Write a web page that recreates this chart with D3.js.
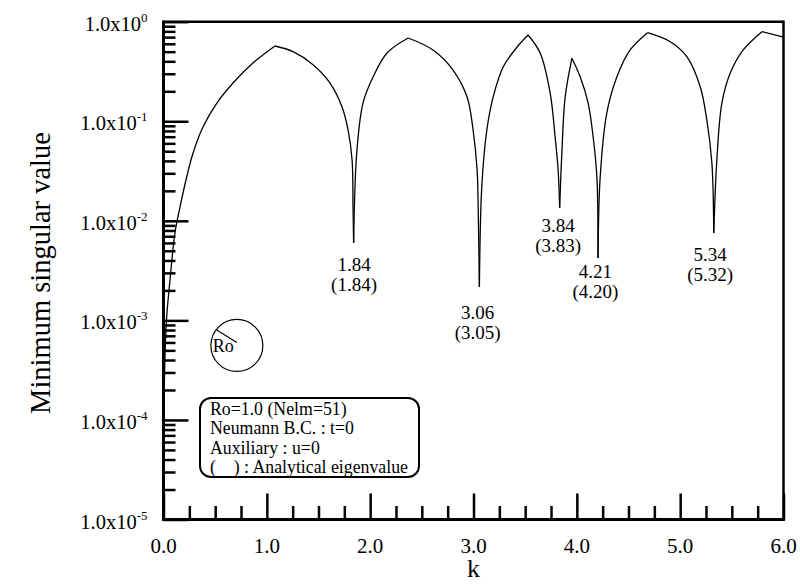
<!DOCTYPE html>
<html>
<head>
<meta charset="utf-8">
<script src="https://cdn.jsdelivr.net/npm/d3@7"></script>
<style>
  body { margin: 0; background: #fff; }
  svg { display: block; }
  text { font-family: "Times New Roman", "Liberation Serif", serif; fill: #000; }
</style>
</head>
<body>
<svg id="chart" width="800" height="588"></svg>
<script>
// wave number k and minimum singular value
var kVals = [0.005, 0.015, 0.031, 0.063, 0.111, 0.160, 0.225, 0.286, 0.382, 0.518, 0.673, 0.866, 1.079,
  1.254, 1.447, 1.612, 1.728, 1.786, 1.825, 1.834, 1.840,
  1.870, 1.931, 2.028, 2.163, 2.368,
  2.608, 2.802, 2.938, 2.996, 3.035, 3.044, 3.057,
  3.080, 3.129, 3.190, 3.287, 3.422, 3.528,
  3.645, 3.742, 3.790, 3.819, 3.834,
  3.855, 3.887, 3.952,
  4.033, 4.109, 4.158, 4.194, 4.205,
  4.226, 4.290, 4.387, 4.516, 4.684,
  4.904, 5.065, 5.194, 5.258, 5.307, 5.325,
  5.355, 5.404, 5.485, 5.610, 5.791, 6.0]
var sVals = [1.5e-4, 4.5e-4, 1.09e-3, 2.55e-3, 7.55e-3, 1.38e-2, 2.77e-2, 4.8e-2, 8.75e-2, 0.153, 0.242, 0.385, 0.570,
  0.50, 0.37, 0.242, 0.139, 0.0817, 0.0408, 0.0138, 5.98e-3,
  0.048, 0.153, 0.278, 0.485, 0.686,
  0.520, 0.327, 0.175, 0.0817, 0.0324, 0.0162, 2.16e-3,
  0.0219, 0.0817, 0.175, 0.351, 0.557, 0.735,
  0.485, 0.192, 0.0695, 0.0324, 0.0135,
  0.048, 0.175, 0.429,
  0.278, 0.153, 0.0695, 0.0275, 4.23e-3,
  0.0275, 0.121, 0.278, 0.520, 0.776,
  0.630, 0.445, 0.222, 0.103, 0.0381, 7.55e-3,
  0.0408, 0.153, 0.305, 0.520, 0.794, 0.70]

// eigenvalue annotations: computed and (analytical)
var annComputed = ['1.84', '3.06', '3.84', '4.21', '5.34']
var annAnalytical = ['(1.84)', '(3.05)', '(3.83)', '(4.20)', '(5.32)']
var annK = [1.844, 3.04, 3.82, 4.18, 5.29]
var annS = [3.13e-3, 1.03e-3, 7.72e-3, 2.67e-3, 3.95e-3]

var xMajor = [0, 1, 2, 3, 4, 5, 6]
var xTickLabels = ['0.0', '1.0', '2.0', '3.0', '4.0', '5.0', '6.0']
var yMajor = [1, 1e-1, 1e-2, 1e-3, 1e-4, 1e-5]
var yExponents = ['0', '-1', '-2', '-3', '-4', '-5']

var legendLines = ['Ro=1.0 (Nelm=51)', 'Neumann B.C. : t=0', 'Auxiliary : u=0', '(    ) : Analytical eigenvalue']

var svg = d3.select('#chart')
var plotLeft = 163.5
var plotRight = 783.5
var plotTop = 21.7
var plotBottom = 519.5

var x = d3.scaleLinear().domain([0, 6]).range([plotLeft, plotRight])
var y = d3.scaleLog().domain([1e-5, 1]).range([plotBottom, plotTop])

// minor ticks
var xMinor = d3.range(0, 6.001, 0.25).filter((d) => Math.abs(d - Math.round(d)) > 1e-6)
var yMinor = []
for (var e = -5; e < 0; e++) {
  for (var m = 2; m <= 9; m++) yMinor.push(m * Math.pow(10, e))
}

function styleAxis (g) {
  g.select('.domain').remove()
  g.selectAll('.tick line').attr('stroke', '#000').attr('stroke-width', 2.5)
  g.selectAll('.tick text').remove()
}

svg.append('g').attr('transform', 'translate(0,' + plotBottom + ')')
  .call(d3.axisBottom(x).tickValues(xMinor).tickSize(-13.5).tickSizeOuter(0))
  .call(styleAxis)
svg.append('g').attr('transform', 'translate(0,' + plotBottom + ')')
  .call(d3.axisBottom(x).tickValues(xMajor).tickSize(-26).tickSizeOuter(0))
  .call(styleAxis)
svg.append('g').attr('transform', 'translate(' + plotLeft + ',0)')
  .call(d3.axisLeft(y).tickValues(yMinor).tickSize(-12).tickSizeOuter(0))
  .call(styleAxis)
svg.append('g').attr('transform', 'translate(' + plotLeft + ',0)')
  .call(d3.axisLeft(y).tickValues(yMajor).tickSize(-25).tickSizeOuter(0))
  .call(styleAxis)

// frame
svg.append('line').attr('x1', plotLeft).attr('x2', plotRight).attr('y1', plotTop).attr('y2', plotTop)
  .attr('stroke', '#000').attr('stroke-width', 2.5)
svg.append('line').attr('x1', plotRight).attr('x2', plotRight).attr('y1', plotTop - 1.2).attr('y2', plotBottom + 1.5)
  .attr('stroke', '#000').attr('stroke-width', 2.5)
svg.append('line').attr('x1', plotLeft).attr('x2', plotLeft).attr('y1', plotTop - 1.2).attr('y2', plotBottom + 1.5)
  .attr('stroke', '#000').attr('stroke-width', 3)
svg.append('line').attr('x1', plotLeft - 1.5).attr('x2', plotRight + 1.2).attr('y1', plotBottom).attr('y2', plotBottom)
  .attr('stroke', '#000').attr('stroke-width', 3)

// tick labels
svg.selectAll('.xlab').data(xMajor).enter().append('text')
  .attr('class', 'xlab')
  .attr('x', (d) => x(d))
  .attr('y', plotBottom + 33)
  .attr('text-anchor', 'middle')
  .style('font-size', '21px')
  .text((d, i) => xTickLabels[i])

var ylab = svg.selectAll('.ylab').data(yMajor).enter().append('text')
  .attr('class', 'ylab')
  .attr('x', plotLeft - 16)
  .attr('y', (d) => y(d) + 9)
  .attr('text-anchor', 'end')
  .style('font-size', '20.5px')
ylab.append('tspan').text('1.0x10')
ylab.append('tspan').attr('dy', -9).style('font-size', '13px').text((d, i) => yExponents[i])

// axis titles
svg.append('text')
  .attr('x', (plotLeft + plotRight) / 2)
  .attr('y', 577)
  .attr('text-anchor', 'middle')
  .style('font-size', '26px')
  .text('k')
svg.append('text')
  .attr('transform', 'translate(50,273) rotate(-90)')
  .attr('text-anchor', 'middle')
  .style('font-size', '28.5px')
  .text('Minimum singular value')

// curve: split at turning points so each arc keeps its sharp cusps
var pts = kVals.map((k, i) => [k, sVals[i]])
var pieces = []
var cur = [pts[0]]
for (var i = 1; i < pts.length; i++) {
  cur.push(pts[i])
  if (i < pts.length - 1) {
    var a = pts[i][1] - pts[i - 1][1]
    var b = pts[i + 1][1] - pts[i][1]
    if (a * b < 0) {
      pieces.push(cur)
      cur = [pts[i]]
    }
  }
}
pieces.push(cur)

var line = d3.line()
  .x((d) => x(d[0]))
  .y((d) => y(d[1]))
  .curve(d3.curveCatmullRom.alpha(0.5))

svg.selectAll('.curve').data(pieces).enter().append('path')
  .attr('class', 'curve')
  .attr('d', line)
  .attr('fill', 'none')
  .attr('stroke', '#000')
  .attr('stroke-width', 1.3)

// eigenvalue labels
var ann = svg.selectAll('.ann').data(annK).enter().append('g').attr('class', 'ann')
ann.append('text')
  .attr('x', (d) => x(d))
  .attr('y', (d, i) => y(annS[i]))
  .attr('text-anchor', 'middle')
  .style('font-size', '19px')
  .text((d, i) => annComputed[i])
ann.append('text')
  .attr('x', (d) => x(d))
  .attr('y', (d, i) => y(annS[i]) + 20)
  .attr('text-anchor', 'middle')
  .style('font-size', '19px')
  .text((d, i) => annAnalytical[i])

// circle sketch with radius Ro
var cx = x(0.71)
var cy = y(5.6e-4)
svg.append('circle').attr('cx', cx).attr('cy', cy).attr('r', 26)
  .attr('fill', 'none').attr('stroke', '#000').attr('stroke-width', 1.2)
svg.append('line').attr('x1', cx - 21).attr('y1', cy - 16).attr('x2', cx).attr('y2', cy - 3)
  .attr('stroke', '#000').attr('stroke-width', 1.2)
svg.append('text').attr('x', cx - 24).attr('y', cy + 7).style('font-size', '18px').text('Ro')

// legend box
var lg = svg.append('g').attr('transform', 'translate(200,398)')
lg.append('rect').attr('width', 219).attr('height', 79).attr('rx', 11).attr('ry', 11)
  .attr('fill', '#fff').attr('stroke', '#000').attr('stroke-width', 2)
lg.selectAll('text').data(legendLines).enter().append('text')
  .attr('x', 10)
  .attr('y', (d, i) => 17 + i * 19.3)
  .style('font-size', '17.8px')
  .style('white-space', 'pre')
  .text((d) => d)
</script>
</body>
</html>
